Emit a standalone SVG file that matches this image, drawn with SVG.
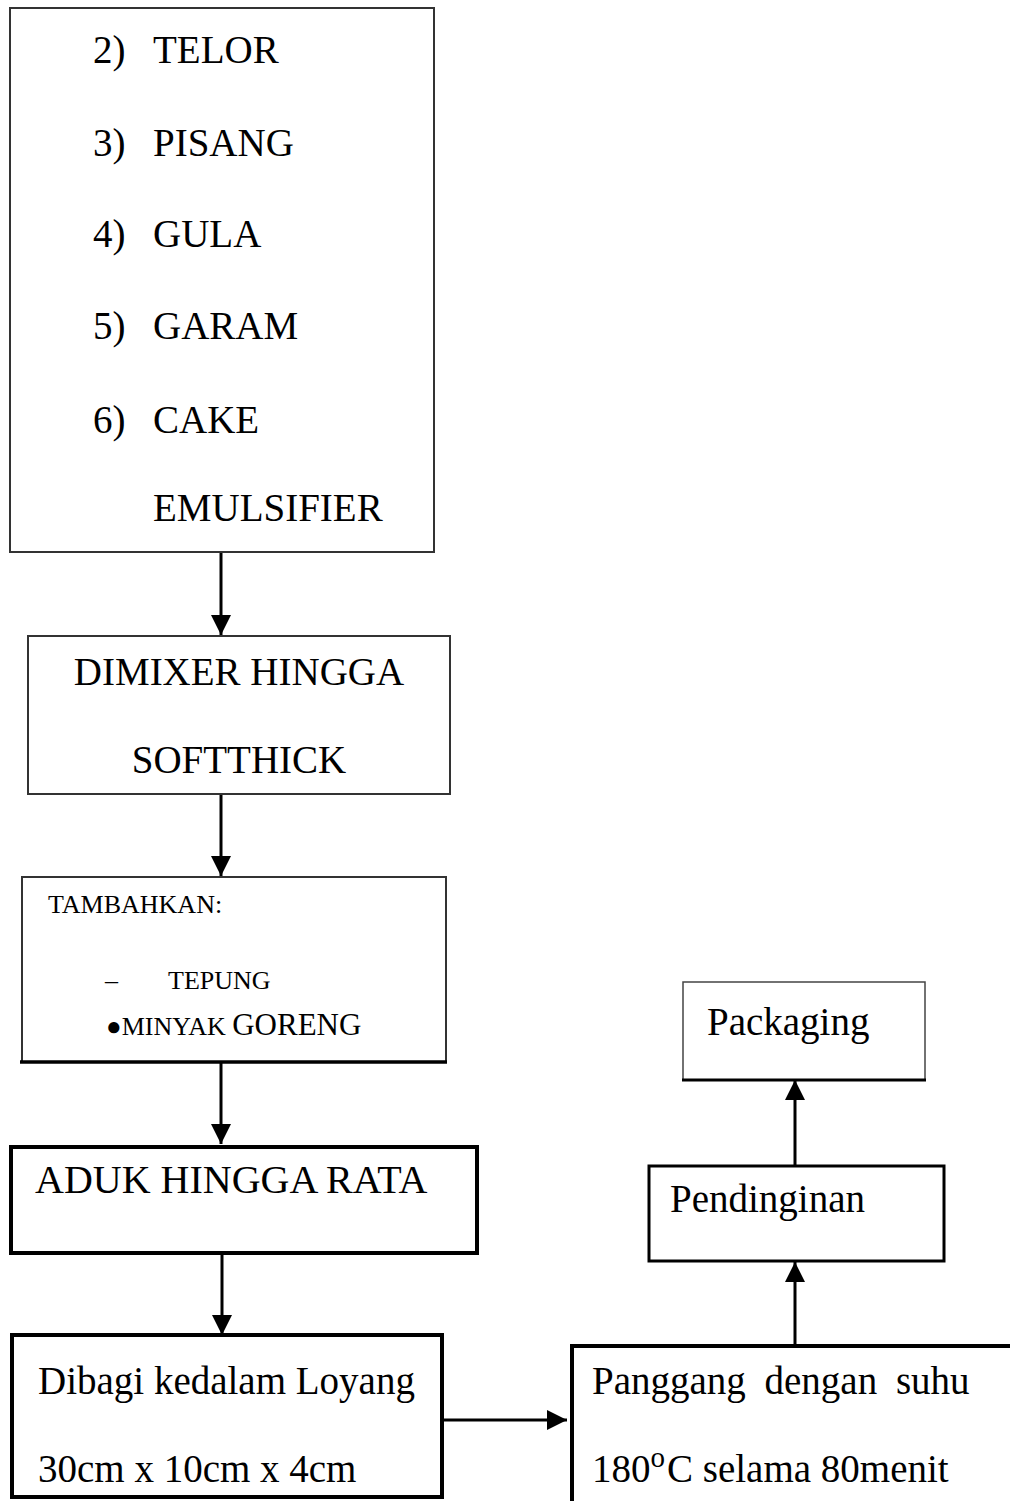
<svg xmlns="http://www.w3.org/2000/svg" width="1010" height="1501" viewBox="0 0 1010 1501">
<defs>
<style>
text{font-family:"Liberation Serif","Times New Roman",serif;fill:#000;}
.big{font-size:39px;}
.sm{font-size:26px;}
.thin{fill:none;stroke:#333;stroke-width:2;}
.thick{fill:none;stroke:#000;stroke-width:4;}
.mid{fill:none;stroke:#000;stroke-width:3;}
.conn{fill:none;stroke:#000;stroke-width:3;}
</style>
<marker id="ah" markerUnits="userSpaceOnUse" markerWidth="22" markerHeight="22" refX="20" refY="10" orient="auto">
<path d="M0,0 L20,10 L0,20 Z" fill="#000"/>
</marker>
</defs>
<rect width="1010" height="1501" fill="#fff"/>

<g id="node-ingredients">
<rect class="thin" x="10" y="8" width="424" height="544"/>
<text class="big" x="93" y="63">2)</text><text class="big" x="153" y="63">TELOR</text>
<text class="big" x="93" y="156">3)</text><text class="big" x="153" y="156">PISANG</text>
<text class="big" x="93" y="247">4)</text><text class="big" x="153" y="247">GULA</text>
<text class="big" x="93" y="339">5)</text><text class="big" x="153" y="339">GARAM</text>
<text class="big" x="93" y="433">6)</text><text class="big" x="153" y="433">CAKE</text>
<text class="big" x="153" y="521">EMULSIFIER</text>
</g>

<g id="node-dimixer">
<rect class="thin" x="28" y="636" width="422" height="158"/>
<text class="big" x="239" y="685" text-anchor="middle">DIMIXER HINGGA</text>
<text class="big" x="239" y="773" text-anchor="middle">SOFTTHICK</text>
</g>

<g id="node-tambahkan">
<path class="thin" d="M22,1062 V877 H446 V1062"/>
<line x1="20" y1="1062" x2="447" y2="1062" stroke="#000" stroke-width="3.5"/>
<text class="sm" x="48" y="913">TAMBAHKAN:</text>
<text class="sm" x="105" y="989">–</text>
<text class="sm" x="168" y="989">TEPUNG</text>
<text x="106" y="1035"><tspan font-size="26">●MINYAK </tspan><tspan font-size="31">GORENG</tspan></text>
</g>

<g id="node-aduk">
<rect class="thick" x="11" y="1147" width="466" height="106"/>
<text x="35" y="1193" style="font-size:40px">ADUK HINGGA RATA</text>
</g>

<g id="node-dibagi">
<rect class="thick" x="12" y="1335" width="430" height="162"/>
<text class="big" x="38" y="1394">Dibagi kedalam Loyang</text>
<text class="big" x="38" y="1482">30cm x 10cm x 4cm</text>
</g>

<g id="node-panggang">
<path class="thick" d="M572,1503 V1346 H1012"/>
<text class="big" x="592" y="1394" word-spacing="9">Panggang dengan suhu</text>
<text class="big" x="592" y="1482">180<tspan style="font-size:29px" dy="-15">o</tspan><tspan dy="15" dx="2">C selama 80menit</tspan></text>
</g>

<g id="node-pendinginan">
<rect class="mid" x="649" y="1166" width="295" height="95"/>
<text class="big" x="670" y="1212">Pendinginan</text>
</g>

<g id="node-packaging">
<path d="M683,1080 V982 H925 V1080" fill="none" stroke="#444" stroke-width="1.5"/>
<line x1="682" y1="1080" x2="926" y2="1080" stroke="#000" stroke-width="3"/>
<text class="big" x="707" y="1035">Packaging</text>
</g>

<g id="connectors">
<line class="conn" x1="221" y1="553" x2="221" y2="635" marker-end="url(#ah)"/>
<line class="conn" x1="221" y1="795" x2="221" y2="876" marker-end="url(#ah)"/>
<line class="conn" x1="221" y1="1063" x2="221" y2="1144" marker-end="url(#ah)"/>
<line class="conn" x1="222" y1="1255" x2="222" y2="1335" marker-end="url(#ah)"/>
<line class="conn" x1="442" y1="1420" x2="567" y2="1420" marker-end="url(#ah)"/>
<line class="conn" x1="795" y1="1344" x2="795" y2="1262" marker-end="url(#ah)"/>
<line class="conn" x1="795" y1="1165" x2="795" y2="1080" marker-end="url(#ah)"/>
</g>
</svg>
